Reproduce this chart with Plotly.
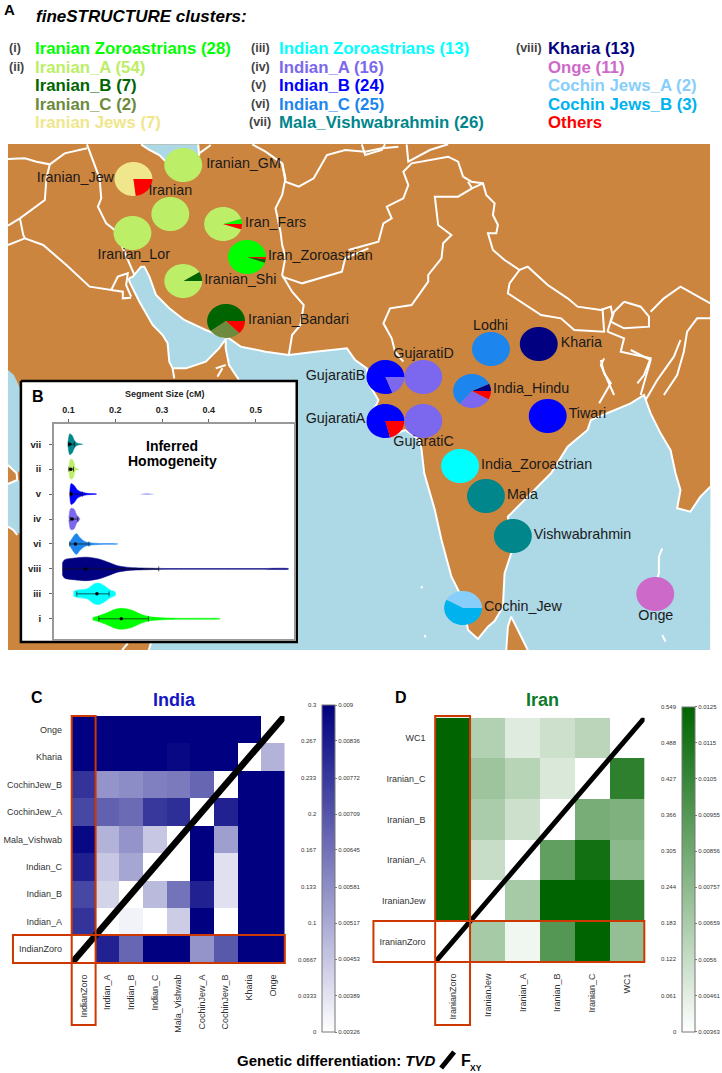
import numpy as np
import plotly.graph_objects as go

PAGE_W, PAGE_H = 722, 1073
FONT = 'Liberation Sans'
LAND = '#CC853F'
SEA = '#ADD8E6'

# ---- legend (panel A) ----
CLUSTER_COLORS = {
    'Iranian Zoroastrians': '#00FF00', 'Iranian_A': '#BCEE68', 'Iranian_B': '#006400',
    'Iranian_C': '#6E8B3D', 'Iranian Jews': '#F0E68C', 'Indian Zoroastrians': '#00FFFF',
    'Indian_A': '#7B68EE', 'Indian_B': '#0000FF', 'Indian_C': '#1C86EE',
    'Mala_Vishwabrahmin': '#00868B', 'Kharia': '#000080', 'Onge': '#CD69C9',
    'Cochin Jews_A': '#87CEFA', 'Cochin Jews_B': '#00B2EE', 'Others': '#FF0000',
}
LEGEND_COL1 = ['Iranian Zoroastrians', 'Iranian_A', 'Iranian_B', 'Iranian_C', 'Iranian Jews']
LEGEND_COL2 = ['Indian Zoroastrians', 'Indian_A', 'Indian_B', 'Indian_C', 'Mala_Vishwabrahmin']
LEGEND_COL3 = ['Kharia', 'Onge', 'Cochin Jews_A', 'Cochin Jews_B', 'Others']
COUNTS_COL1 = [28, 54, 7, 2, 7]
COUNTS_COL2 = [13, 16, 24, 25, 26]
COUNTS_COL3 = [13, 11, 2, 3, None]
ROMAN_COL1 = ['(i)', '(ii)', '', '', '']
ROMAN_COL2 = ['(iii)', '(iv)', '(v)', '(vi)', '(vii)']
ROMAN_COL3 = ['(viii)', '', '', '', '']

# ---- pies on the map ----
SITE_NAMES = ['Iranian_GM', 'Iranian_Jew', 'Iranian', 'Iran_Fars', 'Iranian_Lor', 'Iran_Zoroastrian',
              'Iranian_Shi', 'Iranian_Bandari', 'Lodhi', 'Kharia', 'GujaratiD', 'GujaratiB',
              'India_Hindu', 'GujaratiA', 'GujaratiC', 'Tiwari', 'India_Zoroastrian', 'Mala',
              'Vishwabrahmin', 'Cochin_Jew', 'Onge']
SITE_X = [184, 134, 171, 224, 133, 248, 184, 227, 493, 541, 425, 387, 474, 387, 425, 550, 462, 488, 515, 465, 658]
SITE_Y = [165, 179, 214, 224, 233, 257, 281, 321, 349, 344, 377, 377, 391, 421, 421, 416, 466, 496, 536, 608, 594]
LABEL_X = [207, 37, 149, 246, 98, 269, 205, 249, 475, 563, 395, 307, 495, 307, 395, 571, 483, 509, 536, 486, 641]
LABEL_Y = [164, 178, 191, 223, 255, 256, 280, 320, 326, 343, 354, 376, 389, 419, 442, 414, 465, 495, 535, 607, 616]
# slices run counter-clockwise from due east
SITE_SLICES = [
    [('Iranian_A', 1.0)],
    [('Iranian Jews', 0.77), ('Others', 0.23)],
    [('Iranian_A', 1.0)],
    [('Iranian Zoroastrians', 0.05), ('Iranian_A', 0.90), ('Others', 0.05)],
    [('Iranian_A', 1.0)],
    [('Iranian Zoroastrians', 0.945), ('Iranian_B', 0.035), ('Others', 0.02)],
    [('Iranian_B', 0.09), ('Iranian_A', 0.91)],
    [('Iranian_B', 0.60), ('Iranian_C', 0.275), ('Others', 0.125)],
    [('Indian_C', 1.0)],
    [('Kharia', 1.0)],
    [('Indian_A', 1.0)],
    [('Indian_B', 0.81), ('Indian_A', 0.19)],
    [('Kharia', 0.07), ('Indian_C', 0.57), ('Indian_A', 0.28), ('Others', 0.08)],
    [('Indian_B', 0.79), ('Others', 0.21)],
    [('Indian_A', 1.0)],
    [('Indian_B', 1.0)],
    [('Indian Zoroastrians', 1.0)],
    [('Mala_Vishwabrahmin', 1.0)],
    [('Mala_Vishwabrahmin', 1.0)],
    [('Cochin Jews_A', 0.42), ('Cochin Jews_B', 0.58)],
    [('Onge', 1.0)],
]

# ---- map outlines ----
# crop_w: x/3, 135+y/3   crop_e: 350+x/3, 135+y/3   crop_s: 300+x/3, 340+y/3   crop_b: x/3, 370+y/3
def crop_w(pts): return [(x / 3, 135 + y / 3) for x, y in pts]
def crop_e(pts): return [(350 + x / 3, 135 + y / 3) for x, y in pts]
def crop_s(pts): return [(300 + x / 3, 340 + y / 3) for x, y in pts]
def crop_b(pts): return [(x / 3, 370 + y / 3) for x, y in pts]

GULF_NORTH = crop_w([(388, 430), (400, 425), (425, 395), (435, 395), (450, 425), (470, 480), (510, 520),
                     (555, 555), (620, 585), (670, 605), (690, 610), (710, 625), (725, 635), (800, 650),
                     (870, 660), (950, 650), (1045, 640)])
INDIA_COAST = crop_s([(170, 60), (205, 85), (210, 130), (240, 180), (235, 192), (205, 240), (262, 292),
                      (320, 270), (365, 300), (370, 330), (378, 400), (410, 510), (430, 600), (460, 710),
                      (490, 770), (510, 870), (540, 897), (570, 860), (590, 843), (615, 800), (620, 700),
                      (640, 640), (630, 530), (690, 470), (760, 400), (810, 320), (870, 270), (880, 240),
                      (930, 220), (1000, 190), (1040, 165), (1060, 220), (1090, 280), (1120, 330),
                      (1135, 400), (1150, 450), (1140, 505), (1180, 515), (1210, 470), (1240, 440)])
SEA_EDGE = [(713, 650), (150, 650), (150, 640), (240, 381)]
OMAN_COAST = crop_w([(720, 735), (690, 690), (680, 640), (680, 612)])
GULF_SOUTH = crop_w([(660, 640), (620, 680), (560, 700), (520, 700), (510, 680), (505, 625), (490, 600),
                     (460, 570), (420, 500), (390, 440), (388, 430)])
CASPIAN = crop_w([(425, 28), (450, 45), (480, 60), (500, 80), (600, 60), (597, 28)])
RED_SEA_N = [(8, 370), (14, 375), (21, 390), (21, 470), (17, 473), (8, 465)]
RED_SEA_S = [(8, 484), (18, 480), (21, 482), (21, 534), (17, 533), (8, 527)]
SRI_LANKA = crop_s([(625, 930), (630, 860), (640, 830), (665, 880), (690, 930)])

BORDERS = [
    crop_w([(24, 72), (75, 70), (110, 80), (150, 88), (195, 55), (262, 40)]),
    crop_w([(150, 88), (140, 130), (135, 195), (60, 250), (24, 272)]),
    crop_w([(262, 28), (270, 50), (285, 90), (300, 130), (305, 190), (295, 215), (320, 265), (345, 285),
            (370, 340), (395, 395), (405, 420)]),
    crop_w([(60, 250), (70, 300), (75, 310), (24, 330)]),
    crop_w([(75, 310), (130, 330), (200, 390), (270, 455), (335, 465), (355, 425), (385, 415), (380, 450),
            (395, 485)]),
    crop_w([(335, 465), (370, 470), (370, 490), (395, 488)]),
    crop_w([(600, 55), (635, 30)]),
    crop_w([(760, 28), (800, 50), (850, 85), (860, 140), (900, 155), (945, 130), (985, 60), (1040, 45),
            (1100, 50), (1150, 40), (1200, 35)]),
    crop_w([(850, 85), (860, 130), (850, 180), (830, 220), (845, 290), (850, 330), (860, 365), (850, 420),
            (880, 470), (915, 510), (905, 570), (880, 600), (870, 660)]),
    crop_w([(850, 425), (910, 445), (1030, 410), (1040, 370), (1110, 340)]),
    crop_w([(520, 700), (525, 730)]),
    crop_w([(650, 700), (680, 690)]),
    crop_w([(655, 725), (670, 700)]),
    crop_e([(0, 345), (50, 330), (90, 320), (105, 265), (130, 250), (115, 215), (165, 190), (180, 150),
            (165, 110), (190, 85), (300, 65), (330, 80), (345, 125), (370, 140), (405, 145)]),
    crop_e([(40, 28), (50, 60), (100, 45), (110, 28)]),
    crop_e([(175, 28), (180, 80), (245, 45), (300, 28)]),
    crop_e([(360, 140), (372, 160), (405, 145), (415, 180), (440, 205), (435, 240), (450, 270), (445, 295),
            (420, 295), (435, 345), (470, 375), (515, 405), (540, 395), (600, 450), (660, 490), (690, 515),
            (760, 525), (790, 515), (795, 540), (780, 590)]),
    crop_e([(515, 405), (485, 445), (480, 475), (580, 540), (640, 550), (680, 585), (770, 590), (765, 520)]),
    crop_e([(372, 160), (330, 185), (260, 185), (265, 230), (270, 270), (310, 300), (285, 325), (280, 370),
            (240, 420), (240, 440), (190, 510), (125, 520), (105, 565), (130, 610), (140, 650), (165, 680)]),
    crop_e([(830, 500), (880, 515), (905, 545), (905, 575), (830, 580), (790, 560), (800, 530), (830, 500)]),
    crop_e([(780, 590), (830, 610), (820, 650), (910, 670), (890, 720), (870, 745)]),
    crop_e([(770, 670), (760, 690), (800, 780)]),
    crop_e([(1090, 505), (1000, 455), (950, 490), (910, 530)]),
    crop_e([(1090, 550), (1050, 550), (1020, 590), (1010, 650), (990, 720), (950, 780)]),
    crop_s([(910, 60), (920, 100), (940, 130), (905, 190)]),
    crop_s([(1000, 30), (1060, 60), (1040, 130), (1030, 165)]),
    crop_s([(1150, 0), (1130, 50), (1080, 120), (1045, 180)]),
    crop_s([(1095, 625), (1085, 650), (1085, 700), (1080, 715)]),
    crop_s([(1095, 885), (1105, 905)]),
    crop_s([(370, 738), (371, 745)]),
    crop_s([(380, 885), (381, 892)]),
    crop_b([(24, 285), (50, 310), (52, 330), (24, 342)]),
    crop_b([(24, 470), (40, 480), (52, 495)]),
    crop_b([(368, 840), (385, 820)]),
    crop_b([(448, 840), (455, 820)]),
]

# ---- panel B: violins (segment size cM, half height in row units) ----
VIOLIN_ROWS = ['i', 'iii', 'viii', 'vi', 'iv', 'v', 'ii', 'vii']
VIOLIN_CLUSTERS = ['Iranian Zoroastrians', 'Indian Zoroastrians', 'Kharia', 'Indian_C', 'Indian_A',
                   'Indian_B', 'Iranian_A', 'Mala_Vishwabrahmin']
VIOLIN_SEG = [
    [.152, .165, .18, .2, .215, .235, .255, .275, .3, .34, .424],
    [.111, .12, .14, .155, .165, .175, .19, .2],
    [.087, .092, .11, .14, .165, .185, .205, .23, .27, .32, .5, .57],
    [.102, .11, .117, .125, .135, .15, .17, .205],
    [.101, .105, .112, .118, .124],
    [.103, .106, .112, .12, .13, .14, .16],
    [.101, .104, .108, .112, .115, .122],
    [.099, .103, .108, .113, .118, .124, .130],
]
VIOLIN_HALF = [
    [.05, .12, .22, .38, .42, .35, .18, .08, .04, .02, .005],
    [.1, .15, .2, .4, .43, .35, .15, .07],
    [.23, .37, .43, .47, .40, .27, .13, .06, .03, .015, .012, .01],
    [.03, .28, .42, .25, .1, .04, .02, .005],
    [.03, .42, .40, .15, .03],
    [.05, .42, .35, .15, .07, .03, .005],
    [.03, .38, .40, .25, .05, .005],
    [.03, .42, .35, .15, .05, .02, .005],
]
V_BLIP_SEG = [.254, .268, .282]
V_BLIP_HALF = [.005, .02, .005]
V_MEAN = [.213, .161, .137, .115, .108, .106, .105, .103]
V_LOW = [.165, .118, .089, .103, .104, .104, .101, .100]
V_HIGH = [.271, .187, .293, .144, .120, .130, .111, .113]
SEG_TICKS = [0.1, 0.2, 0.3, 0.4, 0.5]

# ---- panels C, D: rows bottom-up; TVD is the part left of the diagonal, FXY right of it ----
INDIA_LABELS = ['IndianZoro', 'Indian_A', 'Indian_B', 'Indian_C', 'Mala_Vishwab', 'CochinJew_A',
                'CochinJew_B', 'Kharia', 'Onge']
INDIA_TVD = [
    [],
    [.24],
    [.216, .051],
    [.264, .066, .105],
    [.291, .09, .126, .066],
    [.216, .186, .174, .234, .246],
    [.24, .126, .135, .15, .156, .18],
    [.3, .3, .3, .3, .291, .3, .3],
    [.3, .3, .3, .3, .3, .3, .3, .3],
]
INDIA_FXY = [
    [.00825, .0067, .009, .009, .00567, .00699, .009, .009],
    [.00355, .00326, .00441, .009, .00326, .009, .009],
    [.00481, .00642, .00825, .00395, .009, .009],
    [.00326, .009, .00395, .009, .009],
    [.009, .00544, .009, .009],
    [.00825, .009, .009],
    [.009, .009],
    [.00498],
    [],
]
INDIA_TVD_TICKS = [0, .0333, .0667, .1, .133, .167, .2, .233, .267, .3]
INDIA_TVD_TEXT = ['0', '0.0333', '0.0667', '0.1', '0.133', '0.167', '0.2', '0.233', '0.267', '0.3']
INDIA_FXY_TEXT = ['0.00326', '0.00389', '0.00453', '0.00517', '0.00581', '0.00645', '0.00709', '0.00772',
                  '0.00836', '0.009']

IRAN_LABELS = ['IranianZoro', 'IranianJew', 'Iranian_A', 'Iranian_B', 'Iranian_C', 'WC1']
IRAN_TVD = [
    [],
    [.549],
    [.549, .121],
    [.549, .181, .110],
    [.549, .209, .154, .082],
    [.549, .165, .071, .110, .148],
]
IRAN_FXY = [
    [.00673, .00416, .00957, .0125, .00736],
    [.00673, .0125, .0125, .0109],
    [.00913, .01188, .00762],
    [.00833, .00807],
    [.0109],
    [],
]
IRAN_TVD_TICKS = [0, .061, .122, .183, .244, .305, .366, .427, .488, .549]
IRAN_TVD_TEXT = ['0', '0.061', '0.122', '0.183', '0.244', '0.305', '0.366', '0.427', '0.488', '0.549']
IRAN_FXY_TEXT = ['0.00363', '0.00461', '0.0056', '0.00659', '0.00757', '0.00856', '0.00955', '0.0105',
                 '0.0115', '0.0125']


def dom_x(left, right):
    return [left / PAGE_W, right / PAGE_W]


def dom_y(top, bottom):
    return [1 - bottom / PAGE_H, 1 - top / PAGE_H]


def note(text, x, y, size, color='black', anchor='left'):
    return dict(text=text, x=x, y=y, xref='x', yref='y', showarrow=False, xanchor=anchor, yanchor='middle',
                font=dict(family=FONT, size=size, color=color))


def wedge(cx, cy, start, stop, rx=19, ry=17):
    a = 2 * np.pi * np.linspace(start, stop, max(int((stop - start) * 72), 2) + 1)
    xs = cx + rx * np.cos(a)
    ys = cy - ry * np.sin(a)
    if stop - start < 1:
        xs = np.r_[cx, xs, cx]
        ys = np.r_[cy, ys, cy]
    return xs, ys


def triangle_matrix(tvd, fxy, tvd_max, fxy_min, fxy_max):
    n = len(tvd)
    z = [[None] * n for _ in range(n)]
    for i in range(n):
        for j, v in enumerate(tvd[i]):
            z[i][j] = v / tvd_max
        for j, v in enumerate(fxy[i]):
            z[i][i + 1 + j] = (v - fxy_min) / (fxy_max - fxy_min)
    return z


fig = go.Figure()
annotations = []
shapes = []

# page axis, in pixels, holds the map
fig.add_trace(go.Scatter(x=[8, 713, 713, 8], y=[144, 144, 650, 650], fill='toself', fillcolor=LAND,
                         mode='none', hoverinfo='skip'))

sea_main = GULF_NORTH + INDIA_COAST + SEA_EDGE + OMAN_COAST + GULF_SOUTH
for poly in [sea_main, CASPIAN, RED_SEA_N, RED_SEA_S]:
    fig.add_trace(go.Scatter(x=[p[0] for p in poly], y=[p[1] for p in poly], fill='toself', fillcolor=SEA,
                             mode='none', hoverinfo='skip'))
fig.add_trace(go.Scatter(x=[p[0] for p in SRI_LANKA], y=[p[1] for p in SRI_LANKA], fill='toself',
                         fillcolor=LAND, mode='lines', line=dict(color='white', width=2), hoverinfo='skip'))

outlines = BORDERS + [GULF_NORTH + INDIA_COAST, OMAN_COAST + GULF_SOUTH, CASPIAN]
for line in outlines:
    fig.add_trace(go.Scatter(x=[p[0] for p in line], y=[p[1] for p in line], mode='lines',
                             line=dict(color='white', width=2), hoverinfo='skip'))

# pies
for cx, cy, slices in zip(SITE_X, SITE_Y, SITE_SLICES):
    start = 0.0
    for cluster, frac in slices:
        xs, ys = wedge(cx, cy, start, start + frac)
        fig.add_trace(go.Scatter(x=xs, y=ys, fill='toself', fillcolor=CLUSTER_COLORS[cluster], mode='none',
                                 hoverinfo='skip'))
        start += frac

fig.add_trace(go.Scatter(x=LABEL_X, y=LABEL_Y, text=SITE_NAMES, mode='text', textposition='middle right',
                         textfont=dict(family=FONT, size=14.3, color='#1a1a1a'), hoverinfo='skip'))

# panel B frame sits on the map
fig.add_trace(go.Scatter(x=[21, 298, 298, 21, 21], y=[381, 381, 642, 642, 381], fill='toself',
                         fillcolor='white', mode='lines', line=dict(color='black', width=2.5),
                         hoverinfo='skip'))

# panel B violins
for row, (cluster, seg, half) in enumerate(zip(VIOLIN_CLUSTERS, VIOLIN_SEG, VIOLIN_HALF)):
    seg = np.array(seg)
    half = np.array(half)
    fig.add_trace(go.Scatter(x=np.r_[seg, seg[::-1]], y=np.r_[row + half, (row - half)[::-1]], xaxis='x2',
                             yaxis='y2', fill='toself', fillcolor=CLUSTER_COLORS[cluster], mode='lines',
                             line=dict(color=CLUSTER_COLORS[cluster], width=0.5, shape='spline', smoothing=0.8),
                             hoverinfo='skip'))
blip = np.array(V_BLIP_HALF)
fig.add_trace(go.Scatter(x=V_BLIP_SEG + V_BLIP_SEG[::-1], y=np.r_[5 + blip, (5 - blip)[::-1]], xaxis='x2',
                         yaxis='y2', fill='toself', fillcolor='#6A6AF0', mode='none', hoverinfo='skip'))
fig.add_trace(go.Scatter(
    x=V_MEAN, y=list(range(8)), xaxis='x2', yaxis='y2', mode='markers',
    marker=dict(color='black', size=3.5),
    error_x=dict(type='data', symmetric=False, array=[h - m for h, m in zip(V_HIGH, V_MEAN)],
                 arrayminus=[m - l for m, l in zip(V_MEAN, V_LOW)], color='#111111', thickness=0.7, width=2.5),
    hoverinfo='skip'))

# panels C and D
INDIA_Z = triangle_matrix(INDIA_TVD, INDIA_FXY, 0.3, 0.00326, 0.009)
IRAN_Z = triangle_matrix(IRAN_TVD, IRAN_FXY, 0.549, 0.00363, 0.0125)

panels = [
    (INDIA_Z, INDIA_LABELS, '#000080', 'x3', 'y3', INDIA_TVD_TICKS, INDIA_TVD_TEXT, INDIA_FXY_TEXT, 0.3,
     323, 705, 1032.3, 6.5),
    (IRAN_Z, IRAN_LABELS, '#006400', 'x4', 'y4', IRAN_TVD_TICKS, IRAN_TVD_TEXT, IRAN_FXY_TEXT, 0.549,
     685, 706.7, 1031.7, 5),
]
for z, labels, top_color, xa, ya, ticks, left_text, right_text, tvd_max, bar_x, bar_top, bar_bot, diag in panels:
    levels = [t / tvd_max for t in ticks]
    n = len(labels)
    fig.add_trace(go.Heatmap(
        z=z, x=list(range(n)), y=list(range(n)), xaxis=xa, yaxis=ya, zmin=0, zmax=1,
        colorscale=[[0, 'white'], [1, top_color]], hoverinfo='skip',
        colorbar=dict(
            x=bar_x / PAGE_W, xanchor='left', y=1 - bar_top / PAGE_H, yanchor='top',
            lenmode='pixels', len=bar_bot - bar_top, thickness=13, xpad=0, ypad=0,
            outlinecolor='#777777', outlinewidth=1, tickvals=levels, ticktext=right_text,
            ticks='outside', ticklen=2, tickcolor='#777777',
            tickfont=dict(family=FONT, size=6, color='#333333')),
    ))
    fig.add_trace(go.Scatter(x=[-0.5, n - 0.5], y=[-0.5, n - 0.5], xaxis=xa, yaxis=ya, mode='lines',
                             line=dict(color='black', width=diag), hoverinfo='skip'))
    for lev, txt in zip(levels, left_text):
        annotations.append(note(txt, bar_x - 3, bar_bot - lev * (bar_bot - bar_top), 6, '#333333', 'right'))

fig.update_layout(
    width=PAGE_W, height=PAGE_H, margin=dict(l=0, r=0, t=0, b=0, pad=0), showlegend=False,
    paper_bgcolor='white', plot_bgcolor='white',
    font=dict(family=FONT),
    xaxis=dict(range=[0, PAGE_W], domain=[0, 1], visible=False, fixedrange=True),
    yaxis=dict(range=[PAGE_H, 0], domain=[0, 1], visible=False, fixedrange=True),
    xaxis2=dict(domain=dom_x(54, 295), anchor='y2', side='top', range=[0.0688, 0.5815], tickvals=SEG_TICKS,
                tickformat='.1f', ticks='outside', ticklen=3, tickcolor='#666666', ticklabelstandoff=3,
                tickfont=dict(family=FONT, size=9, color='#222222', weight='bold'), showgrid=False, zeroline=False,
                showline=True, linecolor='#999999', linewidth=1.5, mirror=True, fixedrange=True),
    yaxis2=dict(domain=dom_y(424, 639), anchor='x2', range=[-0.81, 7.81], tickvals=list(range(8)),
                ticktext=VIOLIN_ROWS, ticks='outside', ticklen=3, tickcolor='#666666', ticklabelstandoff=6,
                tickfont=dict(family=FONT, size=9.5, color='#222222', weight='bold'), showgrid=False, zeroline=False,
                showline=True, linecolor='#999999', linewidth=1.5, mirror=True, fixedrange=True),
    xaxis3=dict(domain=dom_x(72.3, 285.7), anchor='y3', range=[-0.5, 8.5], tickvals=list(range(9)),
                ticktext=INDIA_LABELS, tickangle=-90, ticks='', ticklabelstandoff=9,
                tickfont=dict(family=FONT, size=9, color='#333333'), showgrid=False, zeroline=False, fixedrange=True),
    yaxis3=dict(domain=dom_y(716, 962.7), anchor='x3', range=[-0.5, 8.5], tickvals=list(range(9)),
                ticktext=INDIA_LABELS, ticks='', ticklabelstandoff=9,
                tickfont=dict(family=FONT, size=9, color='#333333'), showgrid=False, zeroline=False, fixedrange=True),
    xaxis4=dict(domain=dom_x(437.3, 647.3), anchor='y4', range=[-0.5, 5.5], tickvals=list(range(6)),
                ticktext=IRAN_LABELS, tickangle=-90, ticks='', ticklabelstandoff=9,
                tickfont=dict(family=FONT, size=9, color='#333333'), showgrid=False, zeroline=False, fixedrange=True),
    yaxis4=dict(domain=dom_y(717.7, 961.7), anchor='x4', range=[-0.5, 5.5], tickvals=list(range(6)),
                ticktext=IRAN_LABELS, ticks='', ticklabelstandoff=9,
                tickfont=dict(family=FONT, size=9, color='#333333'), showgrid=False, zeroline=False, fixedrange=True),
)

# red boxes around the Zoroastrian row and column
for x0, y0, x1, y1 in [(72, 716, 96, 1025), (13, 935, 286, 963), (437, 716, 472, 1025), (375, 921, 647, 962)]:
    shapes.append(dict(type='rect', xref='x', yref='y', x0=x0, y0=y0, x1=x1, y1=y1, layer='above',
                       line=dict(color='#CD3700', width=2)))
shapes.append(dict(type='line', xref='x', yref='y', x0=443, y0=1068, x1=456, y1=1052, layer='above',
                   line=dict(color='black', width=5)))

# titles and legend text
annotations.append(note('<b>A</b>', 2, 9, 15))
annotations.append(note('<b><i>fineSTRUCTURE clusters:</i></b>', 34, 16, 17))
ROW_Y = [48, 67, 85, 104, 122]
for names, counts, roman, rx, tx in [(LEGEND_COL1, COUNTS_COL1, ROMAN_COL1, 7, 33),
                                     (LEGEND_COL2, COUNTS_COL2, ROMAN_COL2, 250, 278),
                                     (LEGEND_COL3, COUNTS_COL3, ROMAN_COL3, 516, 548)]:
    for name, count, rom, y in zip(names, counts, roman, ROW_Y):
        label = name if count is None else f'{name} ({count})'
        annotations.append(note(f'<b>{label}</b>', tx, y, 16.8, CLUSTER_COLORS[name]))
        if rom:
            annotations.append(note(f'<b>{rom}</b>', rx - 2 if rom == '(vii)' else rx, y, 12.5, '#444444'))

annotations.append(note('<b>B</b>', 30, 396, 16))
annotations.append(note('<b>Segment Size (cM)</b>', 166, 394, 9, '#222222', 'center'))
annotations.append(note('<b>Inferred</b>', 173, 446, 14, 'black', 'center'))
annotations.append(note('<b>Homogeneity</b>', 173, 461, 14, 'black', 'center'))
annotations.append(note('<b>C</b>', 29, 697, 16))
annotations.append(note('<b>India</b>', 175, 700, 18, '#1414C8', 'center'))
annotations.append(note('<b>D</b>', 395, 697, 16))
annotations.append(note('<b>Iran</b>', 545, 700, 18, '#0E7A2A', 'center'))
annotations.append(note('<b>Genetic differentiation: <i>TVD</i></b>', 440, 1060, 15, 'black', 'right'))
annotations.append(note('<b>F</b>', 461, 1060, 16))
annotations.append(note('<b>XY</b>', 470, 1068, 8.5))

fig.update_layout(annotations=annotations, shapes=shapes)
fig.write_html("out.html", post_script="document.body.style.margin='0';", config=dict(displayModeBar=False))
